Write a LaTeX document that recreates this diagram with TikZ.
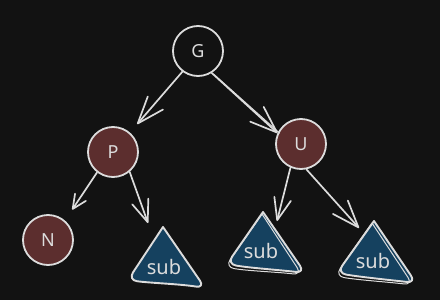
\documentclass[tikz,border=0pt]{standalone}
\usepackage{fontspec}
\setmainfont{Noto Sans}
\usetikzlibrary{arrows.meta}
\definecolor{bg}{HTML}{121212}
\definecolor{ink}{HTML}{DCDCDC}
\definecolor{redfill}{HTML}{5C2E2E}
\definecolor{bluefill}{HTML}{15415F}
\begin{document}
\begin{tikzpicture}[x=1pt,y=-1pt,
  nodecircle/.style={circle, draw=ink, line width=1.8pt, minimum size=50pt, inner sep=0pt,
    font=\fontsize{18}{20}\selectfont, text=ink},
  redn/.style={nodecircle, fill=redfill},
  subtri/.style={draw=ink, fill=bluefill, line width=1.9pt, line join=round},
  subline/.style={draw=ink, line width=1pt, line join=round},
  sublabel/.style={font=\fontsize{20}{22}\selectfont, text=ink, inner sep=0pt},
  edge/.style={draw=ink, line width=1.7pt, line cap=round, line join=round},
  bigtip/.style={-{Straight Barb[length=27pt,width=20pt,line width=1.7pt,line cap=round,line join=round]}},
  midtip/.style={-{Straight Barb[length=22pt,width=17pt,line width=1.7pt,line cap=round,line join=round]}},
  smalltip/.style={-{Straight Barb[length=14pt,width=13pt,line width=1.7pt,line cap=round,line join=round]}},
]
\fill[bg] (0,0) rectangle (440,300);
\useasboundingbox (0,0) rectangle (440,300);

% nodes
\node[nodecircle] (G) at (198,51) {G};
\node[redn] (P) at (113,152) {P};
\node[redn] (U) at (301,144) {U};
\node[redn] (N) at (48,240) {N};

% subtrees
\path[subtri] (163,227) [rounded corners=9pt] -- (205,288) .. controls (180,284) and (150,283) .. (128,280) [sharp corners] -- cycle;
\path[subtri] (263,212) [rounded corners=9pt] -- (305,273) .. controls (280,270) and (250,268) .. (227,264) [sharp corners] -- cycle;
\path[subline] (262,214) [rounded corners=9pt] -- (302,275) .. controls (278,272) and (248,271) .. (225,267) [sharp corners] -- cycle;
\path[subtri] (374,221) [rounded corners=9pt] -- (416,283) .. controls (390,280) and (360,277) .. (337,273) [sharp corners] -- cycle;
\path[subline] (372,223) [rounded corners=9pt] -- (413,285) .. controls (388,282) and (358,280) .. (335,276) [sharp corners] -- cycle;
\node[sublabel] (s1) at (164,267) {sub};
\node[sublabel] (s2) at (261,251) {sub};
\node[sublabel] (s3) at (373,261) {sub};

\coordinate (s1tip) at (148,223);
\coordinate (s2tip) at (277,221);
\coordinate (s3tip) at (359,228);

% connectors
\draw[edge, bigtip, shorten >=11pt] (G.-127) -- (P.49);
\draw[edge, bigtip] (G.-58) -- (U.155);
\draw[ink, line width=1pt, line cap=round] ([shift={(3pt,-1pt)}]G.-60) -- ([shift={(1pt,-2pt)}]U.150);
\draw[edge, smalltip, shorten >=13pt] (P.-128) -- (N.49);
\draw[edge, midtip] (P.-50) -- (s1tip);
\draw[edge, midtip] (U.-114) -- (s2tip);
\draw[edge, bigtip] (U.-78) -- (s3tip);
\end{tikzpicture}
\end{document}
